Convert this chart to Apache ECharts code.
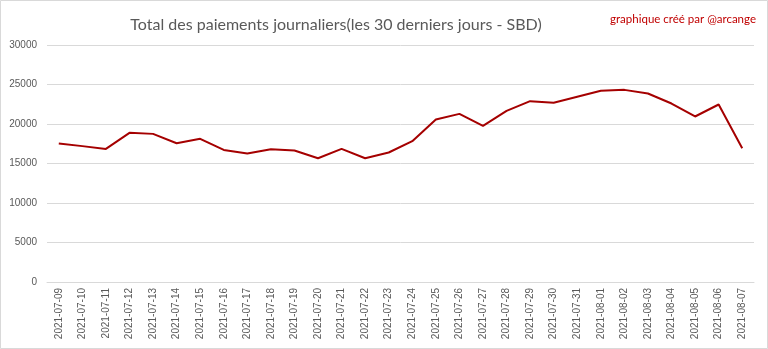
<!DOCTYPE html>
<html><head><meta charset="utf-8">
<script src="https://cdn.jsdelivr.net/npm/echarts@6/dist/echarts.min.js"></script>
<style>html,body{margin:0;padding:0;background:#fff}#c{width:768px;height:349px}</style>
</head><body><div id="c"></div>
<script>
const categories = ["2021-07-09","2021-07-10","2021-07-11","2021-07-12","2021-07-13","2021-07-14","2021-07-15","2021-07-16","2021-07-17","2021-07-18","2021-07-19","2021-07-20","2021-07-21","2021-07-22","2021-07-23","2021-07-24","2021-07-25","2021-07-26","2021-07-27","2021-07-28","2021-07-29","2021-07-30","2021-07-31","2021-08-01","2021-08-02","2021-08-03","2021-08-04","2021-08-05","2021-08-06","2021-08-07"];
const payments = [17530,17200,16850,18880,18750,17570,18120,16720,16260,16810,16640,15670,16850,15670,16390,17820,20570,21280,19760,21660,22890,22680,23440,24200,24320,23860,22590,20950,22470,16930];
const titleText = "Total des paiements journaliers(les 30 derniers jours - SBD)";
const creditText = "graphique créé par @arcange";
const chart = echarts.init(document.getElementById('c'));
chart.setOption({
  animation:false,
  backgroundColor:'#fff',
  graphic:[{type:'rect',shape:{x:0.5,y:0.5,width:767,height:348},style:{fill:'none',stroke:'#d9d9d9',lineWidth:1}}],
  title:[
    {text:titleText,left:331,top:12,textAlign:'center',textStyle:{fontFamily:'Lato',fontSize:16,fontWeight:'normal',color:'#595959'}},
    {text:creditText,right:7,top:8,textStyle:{fontFamily:'Lato',fontSize:11.5,fontWeight:'normal',color:'#c00000'}}
  ],
  grid:{left:47,right:14,top:45,bottom:67},
  xAxis:{type:'category',data:categories,boundaryGap:true,
    axisLine:{lineStyle:{color:'#d9d9d9'}},axisTick:{show:false},
    axisLabel:{rotate:90,interval:0,color:'#595959',fontFamily:'Liberation Sans',fontSize:10,margin:6}},
  yAxis:{type:'value',min:0,max:30000,interval:5000,
    axisLine:{show:false},axisTick:{show:false},
    splitLine:{lineStyle:{color:'#d9d9d9'}},
    axisLabel:{color:'#595959',fontFamily:'Liberation Sans',fontSize:10,margin:10,formatter:function(v){return String(v);}}},
  series:[{type:'line',data:payments,symbol:'none',lineStyle:{color:'#a50000',width:2}}]
});
</script></body></html>
